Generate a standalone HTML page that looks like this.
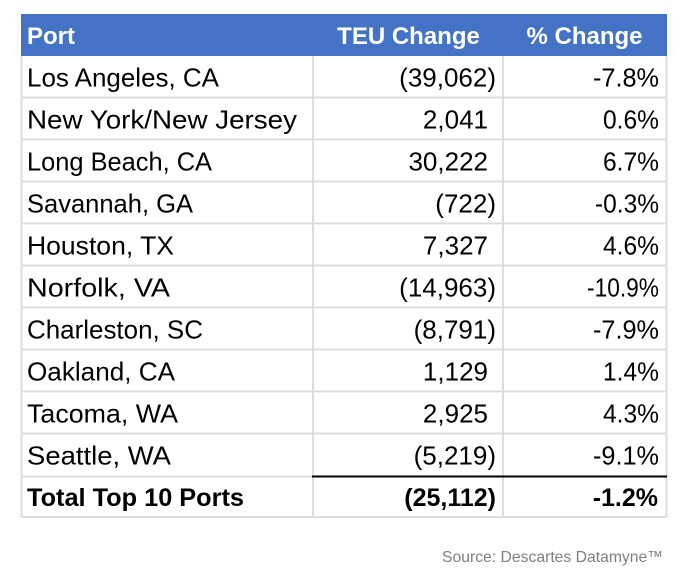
<!DOCTYPE html>
<html>
<head>
<meta charset="utf-8">
<style>
html,body{margin:0;padding:0;background:#fff;}
svg{display:block;}
text{font-family:"Liberation Sans",Arial,sans-serif;}
</style>
</head>
<body>
<svg width="687" height="574" viewBox="0 0 687 574" xmlns="http://www.w3.org/2000/svg">
  <rect x="0" y="0" width="687" height="574" fill="#ffffff"/>
  <!-- header -->
  <rect x="21" y="14" width="646" height="42" fill="#4472C4"/>
  <g fill="#ffffff" font-weight="bold" font-size="24">
    <text x="27" y="44">Port</text>
    <text x="408.5" y="44" text-anchor="middle">TEU Change</text>
    <text x="584.5" y="44" text-anchor="middle">% Change</text>
  </g>

  <!-- grid -->
  <g stroke="#dcdcdc" stroke-width="2" fill="none">
    <line x1="21.5" y1="56" x2="21.5" y2="518"/>
    <line x1="313" y1="56" x2="313" y2="518"/>
    <line x1="503" y1="56" x2="503" y2="518"/>
    <line x1="666.5" y1="56" x2="666.5" y2="518"/>
    <line x1="21" y1="97.5" x2="667" y2="97.5"/>
    <line x1="21" y1="139.5" x2="667" y2="139.5"/>
    <line x1="21" y1="181.5" x2="667" y2="181.5"/>
    <line x1="21" y1="223.5" x2="667" y2="223.5"/>
    <line x1="21" y1="265.5" x2="667" y2="265.5"/>
    <line x1="21" y1="307.5" x2="667" y2="307.5"/>
    <line x1="21" y1="349.5" x2="667" y2="349.5"/>
    <line x1="21" y1="391.5" x2="667" y2="391.5"/>
    <line x1="21" y1="433.5" x2="667" y2="433.5"/>
    <line x1="21" y1="476.5" x2="313" y2="476.5"/>
    <line x1="21" y1="517" x2="667" y2="517"/>
  </g>
  <line x1="312" y1="476.5" x2="667" y2="476.5" stroke="#000" stroke-width="2"/>

  <!-- port names -->
  <g fill="#000" font-size="26">
    <text x="27" y="86.5" textLength="192" lengthAdjust="spacingAndGlyphs">Los Angeles, CA</text>
    <text x="27" y="128.5" textLength="270" lengthAdjust="spacingAndGlyphs">New York/New Jersey</text>
    <text x="27" y="170.5" textLength="185" lengthAdjust="spacingAndGlyphs">Long Beach, CA</text>
    <text x="27" y="212.5" textLength="166" lengthAdjust="spacingAndGlyphs">Savannah, GA</text>
    <text x="27" y="254.5" textLength="147" lengthAdjust="spacingAndGlyphs">Houston, TX</text>
    <text x="27" y="296.5" textLength="143" lengthAdjust="spacingAndGlyphs">Norfolk, VA</text>
    <text x="27" y="338.5" textLength="176" lengthAdjust="spacingAndGlyphs">Charleston, SC</text>
    <text x="27" y="380.5" textLength="148" lengthAdjust="spacingAndGlyphs">Oakland, CA</text>
    <text x="27" y="422.5" textLength="151" lengthAdjust="spacingAndGlyphs">Tacoma, WA</text>
    <text x="27" y="464.5" textLength="144" lengthAdjust="spacingAndGlyphs">Seattle, WA</text>
  </g>

  <!-- TEU change -->
  <g fill="#000" font-size="26" text-anchor="end">
    <text x="496" y="86.5">(39,062)</text>
    <text x="488" y="128.5">2,041</text>
    <text x="488" y="170.5">30,222</text>
    <text x="496" y="212.5">(722)</text>
    <text x="488" y="254.5">7,327</text>
    <text x="496" y="296.5">(14,963)</text>
    <text x="496" y="338.5">(8,791)</text>
    <text x="488" y="380.5">1,129</text>
    <text x="488" y="422.5">2,925</text>
    <text x="496" y="464.5">(5,219)</text>
  </g>

  <!-- % change -->
  <g fill="#000" font-size="26" text-anchor="end">
    <text x="659" y="86.5" textLength="66" lengthAdjust="spacingAndGlyphs">-7.8%</text>
    <text x="659" y="128.5" textLength="56" lengthAdjust="spacingAndGlyphs">0.6%</text>
    <text x="659" y="170.5" textLength="56" lengthAdjust="spacingAndGlyphs">6.7%</text>
    <text x="659" y="212.5" textLength="64" lengthAdjust="spacingAndGlyphs">-0.3%</text>
    <text x="659" y="254.5" textLength="56" lengthAdjust="spacingAndGlyphs">4.6%</text>
    <text x="659" y="296.5" textLength="72" lengthAdjust="spacingAndGlyphs">-10.9%</text>
    <text x="659" y="338.5" textLength="66" lengthAdjust="spacingAndGlyphs">-7.9%</text>
    <text x="659" y="380.5" textLength="56" lengthAdjust="spacingAndGlyphs">1.4%</text>
    <text x="659" y="422.5" textLength="56" lengthAdjust="spacingAndGlyphs">4.3%</text>
    <text x="659" y="464.5" textLength="66" lengthAdjust="spacingAndGlyphs">-9.1%</text>
  </g>

  <!-- total row -->
  <g fill="#000" font-size="25" font-weight="bold">
    <text x="27" y="506" textLength="217" lengthAdjust="spacingAndGlyphs">Total Top 10 Ports</text>
    <text x="496" y="506" text-anchor="end">(25,112)</text>
    <text x="658" y="506" text-anchor="end">-1.2%</text>
  </g>

  <!-- source -->
  <text x="663" y="562" text-anchor="end" font-size="16" fill="#7f7f7f" textLength="221" lengthAdjust="spacingAndGlyphs">Source: Descartes Datamyne™</text>
</svg>
</body>
</html>
